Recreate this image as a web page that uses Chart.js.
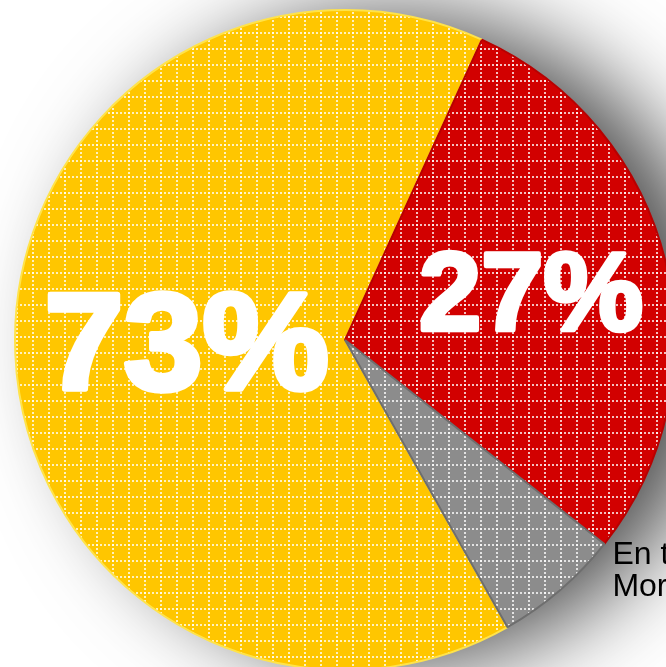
<!DOCTYPE html>
<html>
<head>
<meta charset="utf-8">
<script src="https://cdn.jsdelivr.net/npm/chart.js@4/dist/chart.umd.min.js"></script>
<style>
html, body { margin: 0; padding: 0; overflow: hidden; background: #fff; }
#wrap { width: 690px; height: 680px; position: relative; }
</style>
</head>
<body>
<div id="wrap"><canvas id="pie"></canvas></div>
<script>
// slice values (share of the circle)
const categories = ['73%', '27%', 'En t / Mor'];
const shares = [65.0, 28.8, 6.2];
const insideLabels = ['73%', '27%', ''];
const outsideLabel = ['En t', 'Mor'];
const startAngle = 150.5;

const baseColors = ['#ffc600', '#d20000', '#8c8c8c'];
const rimColors = ['#ffe34a', '#b80000', '#6e6e6e'];

function makePattern(color) {
    const c = document.createElement('canvas');
    c.width = 16;
    c.height = 16;
    const g = c.getContext('2d');
    g.fillStyle = color;
    g.fillRect(0, 0, 16, 16);
    g.fillStyle = 'rgba(255,255,255,0.75)';
    for (let i = 0; i < 16; i += 4) {
        g.fillRect(i, 0, 2, 2);
        g.fillRect(0, i, 2, 2);
    }
    return g.createPattern(c, 'repeat');
}

const shadowPlugin = {
    id: 'pieShadow',
    beforeDatasetsDraw(chart) {
        const arc = chart.getDatasetMeta(0).data[0];
        if (!arc) return;
        const ctx = chart.ctx;
        ctx.save();
        ctx.shadowColor = 'rgba(0,0,0,0.7)';
        ctx.shadowBlur = 90;
        ctx.shadowOffsetX = 50;
        ctx.shadowOffsetY = 0;
        ctx.fillStyle = '#999';
        ctx.beginPath();
        ctx.arc(arc.x, arc.y, arc.outerRadius - 4, 0, Math.PI * 2);
        ctx.fill();
        ctx.restore();
    }
};

const labelPlugin = {
    id: 'sliceLabels',
    afterDatasetsDraw(chart) {
        const ctx = chart.ctx;
        const arcs = chart.getDatasetMeta(0).data;
        const sizes = [138, 112];
        const factors = [0.48, 0.58];
        const stretch = [1.03, 1.0];
        ctx.save();
        ctx.fillStyle = '#fff';
        ctx.strokeStyle = '#fff';
        ctx.lineJoin = 'round';
        ctx.textAlign = 'center';
        ctx.textBaseline = 'middle';
        insideLabels.forEach((txt, i) => {
            if (!txt) return;
            const a = arcs[i];
            const mid = (a.startAngle + a.endAngle) / 2;
            const r = a.outerRadius * factors[i];
            ctx.save();
            ctx.translate(a.x + Math.cos(mid) * r, a.y + Math.sin(mid) * r + 4);
            ctx.scale(stretch[i], 1);
            ctx.font = 'bold ' + sizes[i] + 'px "Liberation Sans", Arial, sans-serif';
            ctx.lineWidth = sizes[i] * 0.04;
            ctx.strokeText(txt, 0, 0);
            ctx.fillText(txt, 0, 0);
            ctx.restore();
        });
        // outside label next to the grey slice
        const g = arcs[2];
        const px = g.x + Math.cos(g.startAngle) * g.outerRadius;
        const py = g.y + Math.sin(g.startAngle) * g.outerRadius;
        ctx.fillStyle = '#000';
        ctx.textAlign = 'left';
        ctx.textBaseline = 'top';
        ctx.font = '32px "Liberation Sans", Arial, sans-serif';
        outsideLabel.forEach((t, i) => ctx.fillText(t, px + 8, py - 5 + i * 32));
        ctx.restore();
    }
};

new Chart(document.getElementById('pie'), {
    type: 'pie',
    data: {
        labels: categories,
        datasets: [{
            data: shares,
            backgroundColor: baseColors.map(makePattern),
            borderColor: rimColors,
            borderWidth: 2
        }]
    },
    options: {
        responsive: true,
        maintainAspectRatio: false,
        animation: false,
        events: [],
        rotation: startAngle,
        layout: { padding: { left: 14, top: 9, right: 14, bottom: 9 } },
        plugins: {
            legend: { display: false },
            tooltip: { enabled: false }
        }
    },
    plugins: [shadowPlugin, labelPlugin]
});
</script>
</body>
</html>
